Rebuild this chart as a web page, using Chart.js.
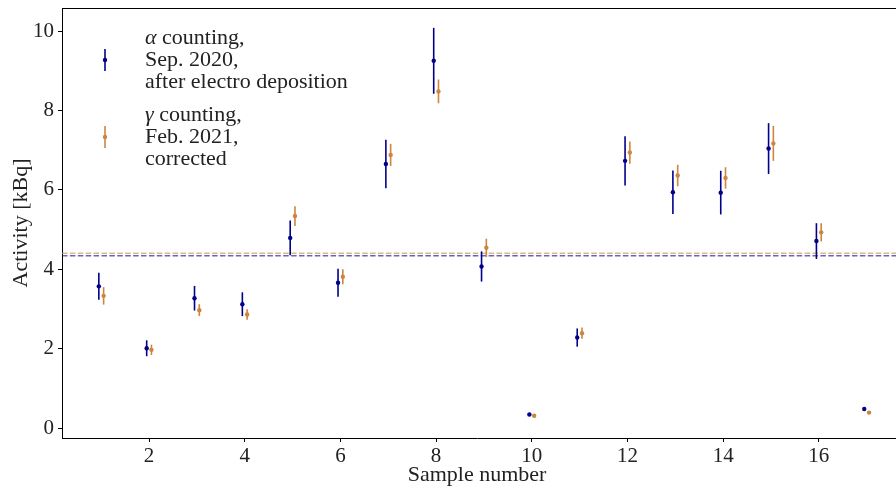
<!DOCTYPE html>
<html>
<head>
<meta charset="utf-8">
<script src="https://cdn.jsdelivr.net/npm/chart.js@4.4.0/dist/chart.umd.min.js"></script>
<style>
  html, body { margin: 0; padding: 0; background: #fff; }
  #wrap { width: 896px; height: 488px; }
</style>
</head>
<body>
<div id="wrap"><canvas id="chart"></canvas></div>
<script>
"use strict";
// sample numbers 1..17
var samples = [1, 2, 3, 4, 5, 6, 7, 8, 9, 10, 11, 12, 13, 14, 15, 16, 17];
// alpha counting, Sep. 2020 [kBq]
var alphaVals = [3.57, 2.01, 3.27, 3.12, 4.79, 3.66, 6.65, 9.25, 4.07, 0.34, 2.28, 6.73, 5.94, 5.93, 7.04, 4.71, 0.48];
var alphaErr  = [0.34, 0.20, 0.31, 0.30, 0.44, 0.35, 0.61, 0.83, 0.38, 0.02, 0.23, 0.62, 0.55, 0.55, 0.64, 0.45, 0.02];
// gamma counting, Feb. 2021 [kBq]
var gammaVals = [3.33, 1.97, 2.97, 2.86, 5.34, 3.81, 6.88, 8.48, 4.54, 0.31, 2.39, 6.94, 6.36, 6.30, 7.17, 4.93, 0.39];
var gammaErr  = [0.22, 0.13, 0.15, 0.13, 0.25, 0.19, 0.28, 0.30, 0.23, 0.02, 0.14, 0.28, 0.27, 0.27, 0.44, 0.23, 0.02];
// weighted means (dashed lines)
var alphaMean = 4.34;
var gammaMean = 4.40;
var xTicks = [2, 4, 6, 8, 10, 12, 14, 16];
var yTicks = [0, 2, 4, 6, 8, 10];

var BLUE = '#00008b', ORANGE = '#cd853f';
var FONT = '"Liberation Serif", "DejaVu Serif", serif';

var toPoints = (vals, errs, shift) => samples.map((s, i) => ({x: s + shift, y: vals[i], err: errs[i]}));

var errorBars = {
    id: 'errorBars',
    beforeDatasetsDraw: (chart) => {
        var ctx = chart.ctx, xs = chart.scales.x, ys = chart.scales.y, area = chart.chartArea;
        ctx.save();
        ctx.beginPath();
        ctx.rect(area.left, area.top, chart.width - area.left, area.bottom - area.top);
        ctx.clip();
        // mean lines
        ctx.lineWidth = 1.5;
        ctx.setLineDash([5.5, 2.4]);
        [[gammaMean, 'rgba(205,133,63,0.6)'], [alphaMean, 'rgba(0,0,139,0.6)']].forEach((m) => {
            var py = ys.getPixelForValue(m[0]);
            ctx.strokeStyle = m[1];
            ctx.beginPath();
            ctx.moveTo(area.left, py);
            ctx.lineTo(chart.width, py);
            ctx.stroke();
        });
        ctx.setLineDash([]);
        chart.data.datasets.forEach((ds) => {
            ctx.strokeStyle = ds.borderColor;
            ctx.lineWidth = 1.6;
            ds.data.forEach((p) => {
                var px = xs.getPixelForValue(p.x);
                ctx.beginPath();
                ctx.moveTo(px, ys.getPixelForValue(p.y - p.err));
                ctx.lineTo(px, ys.getPixelForValue(p.y + p.err));
                ctx.stroke();
            });
        });
        ctx.restore();
    }
};

var frameAndLegend = {
    id: 'frameAndLegend',
    afterDraw: (chart) => {
        var ctx = chart.ctx, area = chart.chartArea;
        ctx.save();
        // top frame line, and the bottom axis carried to the canvas edge
        ctx.strokeStyle = '#000';
        ctx.lineWidth = 1;
        ctx.beginPath();
        ctx.moveTo(area.left, area.top + 0.5);
        ctx.lineTo(chart.width, area.top + 0.5);
        ctx.moveTo(area.right - 1, area.bottom + 0.5);
        ctx.lineTo(chart.width, area.bottom + 0.5);
        ctx.stroke();

        var entries = [
            {color: BLUE, greek: '\u03b1', lines: [' counting,', 'Sep. 2020,', 'after electro deposition'], y: 38},
            {color: ORANGE, greek: '\u03b3', lines: [' counting,', 'Feb. 2021,', 'corrected'], y: 115}
        ];
        entries.forEach((e) => {
            var iy = e.y + 22;
            ctx.strokeStyle = e.color;
            ctx.fillStyle = e.color;
            ctx.lineWidth = 1.6;
            ctx.beginPath();
            ctx.moveTo(105, iy - 11);
            ctx.lineTo(105, iy + 11);
            ctx.stroke();
            ctx.beginPath();
            ctx.arc(105, iy, 2.2, 0, Math.PI * 2);
            ctx.fill();

            ctx.fillStyle = '#222';
            ctx.textBaseline = 'middle';
            ctx.textAlign = 'left';
            ctx.font = 'italic 22px ' + FONT;
            ctx.fillText(e.greek, 145, e.y);
            var gw = ctx.measureText(e.greek).width;
            ctx.font = '22px ' + FONT;
            ctx.fillText(e.lines[0], 145 + gw, e.y);
            ctx.fillText(e.lines[1], 145, e.y + 22);
            ctx.fillText(e.lines[2], 145, e.y + 44);
        });
        ctx.restore();
    }
};

new Chart(document.getElementById('chart'), {
    type: 'scatter',
    data: {
        datasets: [{
            label: 'alpha',
            data: toPoints(alphaVals, alphaErr, -0.05),
            backgroundColor: BLUE,
            borderColor: BLUE,
            pointRadius: 2.2,
            pointBorderWidth: 0
        }, {
            label: 'gamma',
            data: toPoints(gammaVals, gammaErr, 0.05),
            backgroundColor: ORANGE,
            borderColor: ORANGE,
            pointRadius: 2.2,
            pointBorderWidth: 0
        }]
    },
    options: {
        responsive: true,
        maintainAspectRatio: false,
        animation: false,
        layout: {padding: {top: 8, right: 0, bottom: 0, left: 0}},
        plugins: {
            legend: {display: false},
            tooltip: {enabled: false}
        },
        scales: {
            x: {
                type: 'linear',
                min: 0.18,
                max: 17.53,
                afterBuildTicks: (scale) => { scale.ticks = xTicks.map((v) => ({value: v})); },
                afterFit: (scale) => { scale.height = 50; scale.paddingLeft = 0; scale.paddingRight = 0; },
                grid: {drawOnChartArea: false, drawTicks: true, tickLength: 4, color: '#000'},
                border: {color: '#000', width: 1},
                ticks: {color: '#222', font: {family: FONT, size: 21}, padding: 2, maxRotation: 0},
                title: {display: true, text: 'Sample number', color: '#222', font: {family: FONT, size: 22}, padding: {top: 3, bottom: 0}}
            },
            y: {
                min: -0.25,
                max: 10.58,
                afterBuildTicks: (scale) => { scale.ticks = yTicks.map((v) => ({value: v})); },
                afterFit: (scale) => { scale.width = 62; scale.paddingTop = 0; scale.paddingBottom = 0; },
                grid: {drawOnChartArea: false, drawTicks: true, tickLength: 4, color: '#000'},
                border: {color: '#000', width: 1},
                ticks: {color: '#222', font: {family: FONT, size: 21}, padding: 4},
                title: {display: true, text: 'Activity [kBq]', color: '#222', font: {family: FONT, size: 22}, padding: {top: 8, bottom: 6}}
            }
        }
    },
    plugins: [errorBars, frameAndLegend]
});
</script>
</body>
</html>
